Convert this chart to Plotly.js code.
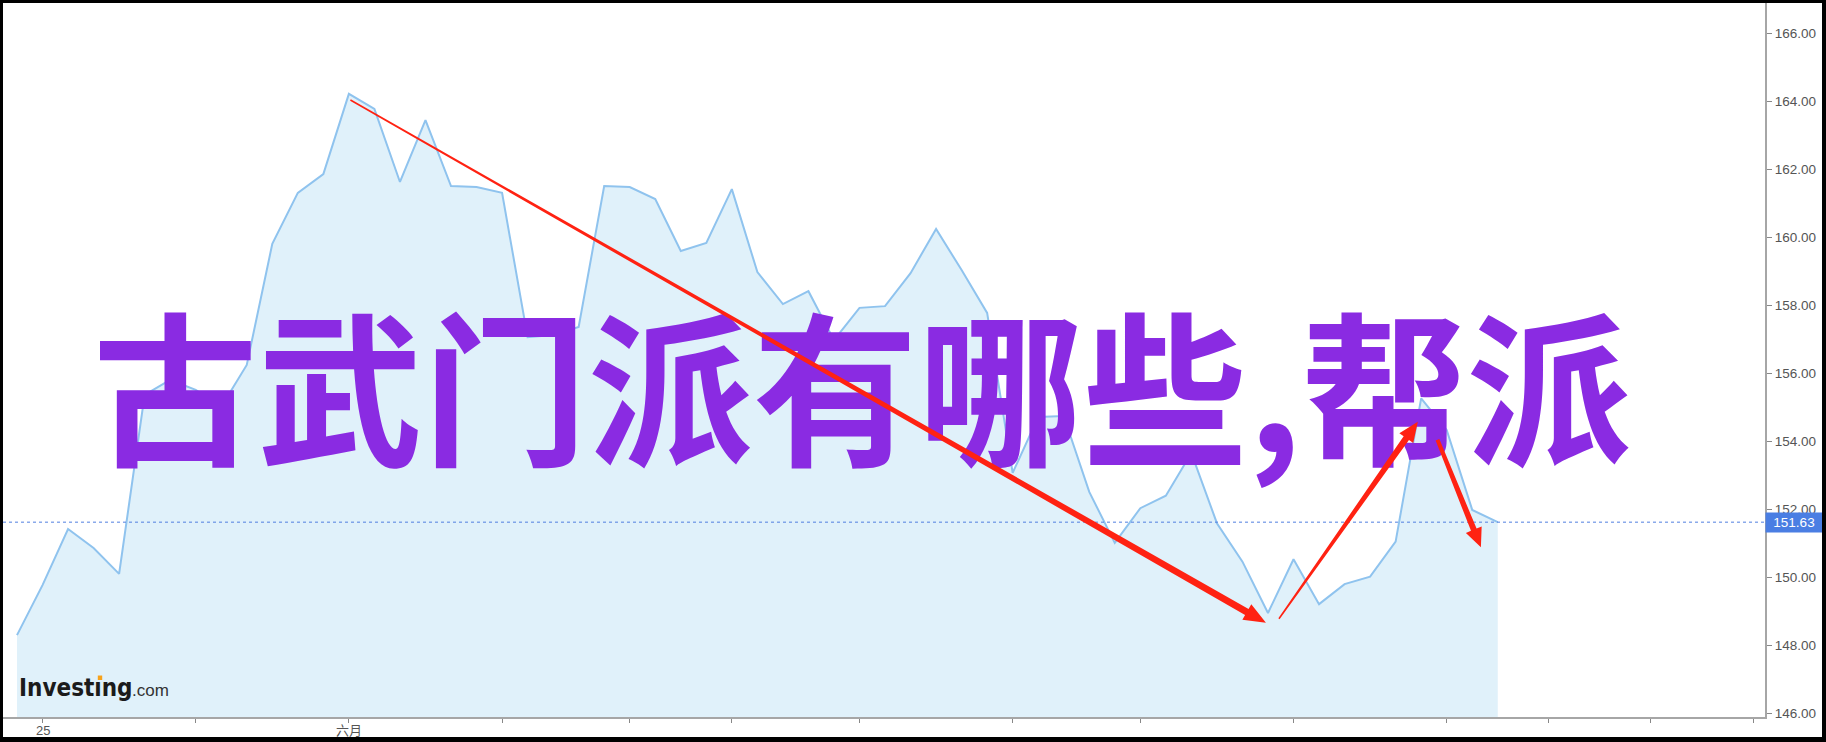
<!DOCTYPE html>
<html>
<head>
<meta charset="utf-8">
<script src="https://cdn.plot.ly/plotly-3.0.1.min.js"></script>
<style>
  html, body { margin: 0; padding: 0; background: #000; width: 1826px; height: 742px; overflow: hidden; }
  #chart { position: absolute; left: 3px; top: 3px; width: 1819px; height: 734px; background: #fff; }
</style>
</head>
<body>
<div id="chart"></div>
<script>
// ---- data ----
const dayIndex = Array.from({length: 59}, (_, i) => i);
const prices = [
  148.31, 149.78, 151.43, 150.87, 150.11,
  155.37, 155.81, 155.52, 155.02, 156.25,
  159.81, 161.31, 161.86, 164.22, 163.78,
  161.63, 163.45, 161.51, 161.48, 161.31,
  157.07, 157.13, 157.37, 161.51, 161.48,
  161.13, 159.60, 159.84, 161.42, 158.98,
  158.04, 158.42, 156.98, 157.93, 157.98,
  158.95, 160.25, 159.04, 157.78, 153.08,
  154.72, 154.75, 152.52, 151.02, 152.04,
  152.41, 153.66, 151.60, 150.47, 148.96,
  150.54, 149.22, 149.81, 150.03, 151.06,
  155.27, 154.34, 151.99, 151.63
];
const lastPrice = 151.63;
const xTickVals = [1, 7, 13, 19, 24, 28, 33, 39, 44, 50, 56, 60, 64, 68];
const xLabelVals = [1, 13];
const xLabelText = ['25', '六月'];
const titleText = '古武门派有哪些,帮派';
// red arrows: start / end in (day index, price)
const arrowStartX = [13.06, 49.43, 55.64];
const arrowStartY = [164.04, 148.79, 154.05];
const arrowEndX   = [48.92, 54.87, 57.34];
const arrowEndY   = [148.67, 154.58, 150.89];

// ---- layout geometry ----
const W = 1762, H = 714;
const xr = [-0.548, 68.468];
const yr = [145.903, 166.891];

function toPx(x, y) {
  return [(x - xr[0]) / (xr[1] - xr[0]) * W, (yr[1] - y) / (yr[1] - yr[0]) * H];
}
function toData(px, py) {
  return [xr[0] + px / W * (xr[1] - xr[0]), yr[1] - py / H * (yr[1] - yr[0])];
}
function arrowPath(x0, y0, x1, y1, w0, w1, hl, hw) {
  const a = toPx(x0, y0), b = toPx(x1, y1);
  const dx = b[0] - a[0], dy = b[1] - a[1];
  const L = Math.hypot(dx, dy);
  const ux = dx / L, uy = dy / L, nx = -uy, ny = ux;
  const base = [b[0] - ux * hl, b[1] - uy * hl];
  const pts = [
    [a[0] + nx * w0 / 2, a[1] + ny * w0 / 2],
    [base[0] + nx * w1 / 2, base[1] + ny * w1 / 2],
    [base[0] + nx * hw, base[1] + ny * hw],
    [b[0], b[1]],
    [base[0] - nx * hw, base[1] - ny * hw],
    [base[0] - nx * w1 / 2, base[1] - ny * w1 / 2],
    [a[0] - nx * w0 / 2, a[1] - ny * w0 / 2]
  ].map(p => toData(p[0], p[1]));
  return 'M ' + pts.map(p => p[0].toFixed(4) + ',' + p[1].toFixed(4)).join(' L ') + ' Z';
}
const arrowStyle = [
  {w0: 1.5, w1: 7, hl: 22, hw: 9},
  {w0: 1.5, w1: 6.5, hl: 20, hw: 8.5},
  {w0: 4, w1: 6, hl: 19, hw: 8.5}
];

const traces = [
  {
    x: dayIndex, y: prices, type: 'scatter', mode: 'lines',
    line: {color: '#8fc3ee', width: 2},
    fill: 'tozeroy', fillcolor: '#e0f1fa',
    hoverinfo: 'skip'
  },
  {
    x: [33.1], y: [154.89], type: 'scatter', mode: 'text',
    text: [titleText], textposition: 'middle center',
    textfont: {family: 'Noto Sans CJK SC', size: 165, color: '#8a2be2', weight: 700},
    cliponaxis: false, hoverinfo: 'skip'
  }
];

const shapes = [
  {type: 'line', xref: 'paper', yref: 'y', x0: 0, x1: 1, y0: lastPrice, y1: lastPrice,
   line: {color: '#4f7fe0', width: 1, dash: 'dot'}, layer: 'above'},
  // orange tittle over the dotless "ı" of the logo
  {type: 'rect', xref: 'paper', yref: 'paper', x0: 0.0538, x1: 0.0563, y0: 0.0518, y1: 0.0581,
   fillcolor: '#f7a21b', line: {width: 0}, layer: 'above'}
];
for (let i = 0; i < arrowStartX.length; i++) {
  const s = arrowStyle[i];
  shapes.push({
    type: 'path', xref: 'x', yref: 'y', layer: 'above',
    path: arrowPath(arrowStartX[i], arrowStartY[i], arrowEndX[i], arrowEndY[i], s.w0, s.w1, s.hl, s.hw),
    fillcolor: '#ff2212', line: {width: 0}
  });
}

const tickFont = {family: 'Liberation Sans, Arial, Noto Sans CJK SC, sans-serif', size: 13.5, color: '#555'};

const annotations = [
  {xref: 'paper', yref: 'y', x: 1, y: lastPrice, xanchor: 'left', yanchor: 'middle',
   xshift: 0, text: lastPrice.toFixed(2), showarrow: false, bgcolor: '#4a7ee3',
   font: {family: 'Liberation Sans, Arial, sans-serif', size: 13.5, color: '#fff'},
   width: 52, height: 15, align: 'center', borderpad: 2},
  {xref: 'paper', yref: 'paper', x: 0.0080, y: 0.0406, xanchor: 'left', yanchor: 'middle',
   text: '<b>Investıng</b>', showarrow: false,
   font: {family: 'DejaVu Sans Condensed, DejaVu Sans, sans-serif', size: 24, color: '#1b1b1b'}},
  {xref: 'paper', yref: 'paper', x: 0.0721, y: 0.0378, xanchor: 'left', yanchor: 'middle',
   text: '.com', showarrow: false,
   font: {family: 'Liberation Sans, Arial, sans-serif', size: 17, color: '#333'}}
];
for (let i = 0; i < xLabelVals.length; i++) {
  annotations.push({
    xref: 'x', yref: 'paper', x: xLabelVals[i], y: -0.0196, xanchor: 'center', yanchor: 'middle',
    text: xLabelText[i], showarrow: false, font: {family: tickFont.family, size: 13, color: '#555'}
  });
}

const layout = {
  width: 1819, height: 734,
  margin: {l: 0, r: 57, t: 0, b: 20, pad: 0},
  paper_bgcolor: '#fff', plot_bgcolor: '#fff',
  showlegend: false,
  xaxis: {
    range: xr, showgrid: false, zeroline: false,
    showline: true, linecolor: '#a6a6a6', linewidth: 2,
    ticks: 'outside', ticklen: 4, tickcolor: '#888', tickwidth: 1,
    tickmode: 'array', tickvals: xTickVals, showticklabels: false
  },
  yaxis: {
    range: yr, side: 'right', showgrid: false, zeroline: false,
    showline: true, linecolor: '#a6a6a6', linewidth: 2,
    ticks: 'outside', ticklen: 5, tickcolor: '#888', tickwidth: 1,
    dtick: 2, tick0: 146, tickformat: '.2f',
    tickfont: tickFont
  },
  shapes: shapes,
  annotations: annotations
};

Plotly.newPlot('chart', traces, layout, {displayModeBar: false, staticPlot: true});
</script>
</body>
</html>
